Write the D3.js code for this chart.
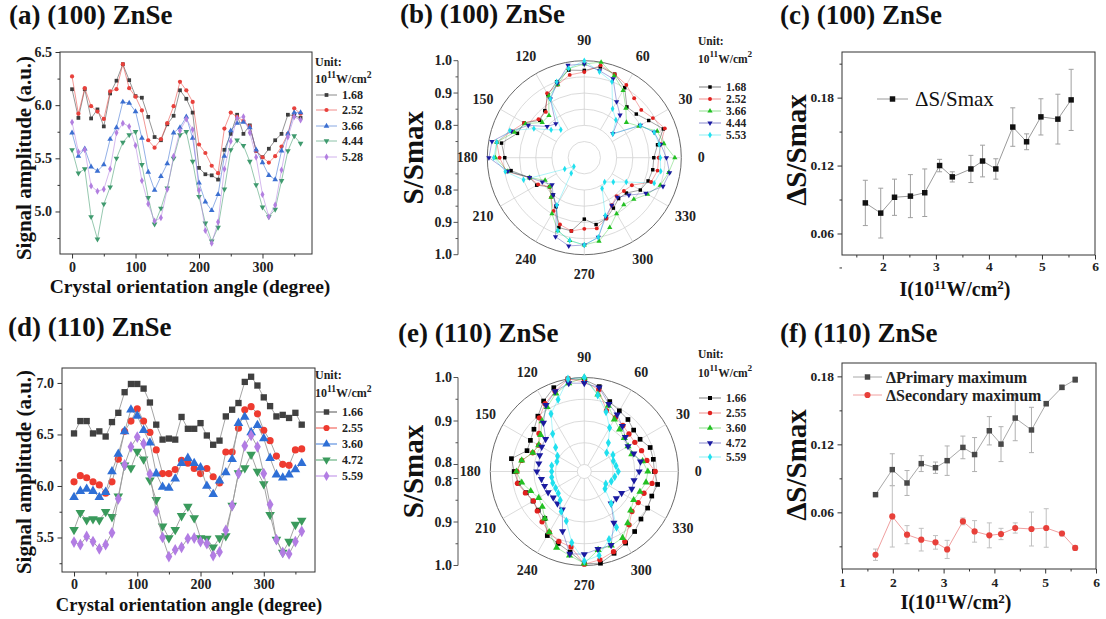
<!DOCTYPE html>
<html><head><meta charset="utf-8">
<script src="https://cdn.jsdelivr.net/npm/d3@7"></script>
<style>
body{margin:0;background:#fff;}
svg{display:block;}
</style></head><body>
<script>
// ---------------- DATA ----------------
const anglesLin = [0,10,20,30,40,50,60,70,80,90,100,110,120,130,140,150,160,170,180,190,200,210,220,230,240,250,260,270,280,290,300,310,320,330,340,350,360];
// (a) (100) ZnSe signal amplitude
const a_168 = [6.15,5.88,6.15,5.875,5.96,5.80,6.11,6.23,6.385,6.235,6.085,6.07,5.89,5.70,5.67,5.82,5.90,6.14,6.06,5.93,5.41,5.35,5.34,5.30,5.58,5.73,5.91,5.73,5.81,5.57,5.51,5.59,5.67,5.73,5.91,5.90,5.88];
const a_252 = [6.27,5.92,6.16,5.99,5.94,5.87,6.13,6.15,6.385,6.16,6.08,5.95,5.67,5.60,5.68,5.83,5.99,6.22,6.14,6.03,5.63,5.55,5.43,5.36,5.78,5.93,5.89,5.85,5.80,5.57,5.51,5.46,5.52,5.61,5.73,5.97,5.92];
const a_366 = [5.74,5.52,5.59,5.42,5.38,5.44,5.68,5.79,6.03,6.02,5.94,5.69,5.37,5.20,5.33,5.45,5.74,5.79,5.89,5.69,5.27,5.09,5.01,5.16,5.52,5.76,5.83,5.84,5.79,5.58,5.46,5.34,5.30,5.57,5.73,5.93,5.93];
const a_444 = [5.58,5.36,5.40,4.95,4.74,5.07,5.23,5.50,5.65,5.72,5.75,5.44,5.13,4.88,5.03,5.22,5.50,5.72,5.75,5.47,5.14,4.89,4.72,4.85,5.21,5.58,5.67,5.62,5.47,5.25,5.04,4.95,5.02,5.29,5.57,5.71,5.64];
const a_528 = [5.84,5.56,5.58,5.24,5.19,5.21,5.40,5.74,5.83,5.80,5.62,5.29,5.07,4.91,4.94,5.21,5.52,5.76,5.87,5.77,5.20,4.82,4.70,4.90,5.40,5.66,5.88,5.89,5.74,5.51,5.16,4.95,5.06,5.39,5.70,5.89,5.86];
const a_labels = ["1.68","2.52","3.66","4.44","5.28"];

// (d) (110) ZnSe signal amplitude
const d_166 = [6.51,6.63,6.63,6.51,6.53,6.48,6.62,6.71,6.91,6.99,6.99,6.945,6.81,6.595,6.45,6.46,6.45,6.67,6.555,6.555,6.61,6.49,6.40,6.44,6.675,6.74,6.805,7.01,7.06,6.975,6.86,6.775,6.675,6.69,6.66,6.71,6.595];
const d_255 = [6.04,6.10,6.08,6.04,6.01,5.93,6.04,6.26,6.53,6.63,6.75,6.63,6.52,6.35,6.12,6.12,6.16,6.25,6.22,6.17,6.12,6.17,6.09,6.03,6.33,6.33,6.56,6.74,6.77,6.70,6.54,6.44,6.29,6.21,6.20,6.35,6.36];
const d_360 = [5.89,5.95,5.97,5.95,5.89,5.94,6.14,6.31,6.53,6.74,6.68,6.54,6.42,6.12,5.99,5.98,6.07,6.22,6.27,6.22,6.18,6.00,5.92,6.05,6.13,6.26,6.61,6.67,6.52,6.59,6.46,6.27,6.11,6.08,6.11,6.16,6.22];
const d_472 = [5.575,5.74,5.67,5.68,5.67,5.75,5.70,5.90,6.20,6.175,6.335,6.26,6.055,5.865,5.61,5.495,5.575,5.71,5.80,5.69,5.495,5.49,5.405,5.495,5.515,5.81,6.125,6.175,6.305,6.14,6.02,5.72,5.48,5.355,5.46,5.625,5.665];
const d_559 = [5.455,5.43,5.51,5.46,5.39,5.43,5.545,5.875,6.205,6.38,6.475,6.41,6.115,5.755,5.50,5.315,5.38,5.405,5.49,5.495,5.46,5.44,5.325,5.36,5.57,5.81,6.12,6.39,6.49,6.38,6.12,5.82,5.48,5.355,5.34,5.46,5.56];
const d_labels = ["1.66","2.55","3.60","4.72","5.59"];

// polar panels (angle in degrees, S/Smax)
const anglesPolar = [0,10,20,30,40,50,60,70,80,90,100,110,120,130,140,150,160,170,180,190,200,210,220,230,240,250,260,270,280,290,300,310,320,330,340,350];
const b_168 = [0.915,0.93,0.96,0.93,0.91,0.905,0.95,0.975,0.985,0.97,0.975,0.95,0.925,0.89,0.88,0.915,0.92,0.96,0.946,0.93,0.88,0.87,0.84,0.85,0.875,0.93,0.93,0.89,0.91,0.90,0.88,0.865,0.87,0.90,0.91,0.915];
const b_252 = [0.93,0.94,0.965,0.945,0.93,0.94,0.96,0.975,0.99,0.965,0.96,0.94,0.93,0.885,0.885,0.915,0.94,0.975,0.962,0.945,0.88,0.865,0.84,0.86,0.89,0.92,0.93,0.92,0.922,0.90,0.87,0.855,0.86,0.87,0.92,0.93];
const b_366 = [0.98,0.95,0.94,0.895,0.87,0.90,0.94,0.97,1.0,0.99,0.98,0.94,0.92,0.87,0.87,0.91,0.93,0.975,0.975,0.94,0.88,0.84,0.84,0.86,0.90,0.94,0.96,0.97,0.962,0.93,0.90,0.89,0.90,0.926,0.95,0.965];
const b_444 = [0.954,0.94,0.93,0.90,0.815,0.872,0.90,0.96,0.973,0.99,0.99,0.945,0.91,0.837,0.85,0.90,0.94,0.99,0.995,0.94,0.88,0.85,0.83,0.85,0.872,0.96,0.977,0.97,0.95,0.894,0.87,0.86,0.88,0.92,0.959,0.968];
const b_553 = [0.935,0.935,0.93,0.90,0.815,0.852,0.875,0.95,0.97,1.0,0.98,0.95,0.91,0.813,0.834,0.88,0.945,0.975,0.98,0.948,0.90,0.77,0.742,0.763,0.87,0.94,0.96,0.97,0.95,0.89,0.81,0.798,0.817,0.85,0.93,0.94];
const b_labels = ["1.68","2.52","3.66","4.44","5.53"];

const e_166 = [0.945,0.945,0.945,0.932,0.932,0.94,0.945,0.955,0.982,0.995,1.0,0.989,0.971,0.95,0.935,0.927,0.924,0.954,0.945,0.938,0.926,0.92,0.922,0.925,0.954,0.96,0.972,0.996,0.998,0.984,0.974,0.964,0.954,0.952,0.949,0.955];
const e_255 = [0.947,0.93,0.924,0.918,0.918,0.922,0.927,0.933,0.975,0.99,1.0,0.98,0.964,0.945,0.92,0.905,0.91,0.93,0.939,0.94,0.928,0.919,0.925,0.935,0.945,0.955,0.96,0.997,0.99,0.98,0.97,0.944,0.927,0.927,0.93,0.942];
const e_360 = [0.93,0.92,0.90,0.90,0.904,0.91,0.922,0.945,0.964,1.0,0.99,0.975,0.955,0.935,0.915,0.905,0.91,0.93,0.94,0.93,0.915,0.905,0.91,0.925,0.945,0.97,0.98,0.995,0.967,0.965,0.96,0.939,0.923,0.915,0.92,0.928];
const e_472 = [0.91,0.915,0.905,0.90,0.907,0.92,0.935,0.949,0.98,0.987,0.99,0.98,0.96,0.93,0.90,0.897,0.893,0.89,0.893,0.884,0.881,0.88,0.877,0.88,0.885,0.93,0.976,0.974,0.965,0.964,0.92,0.88,0.88,0.883,0.90,0.90];
const e_559 = [0.862,0.858,0.855,0.86,0.851,0.87,0.90,0.93,0.962,1.0,1.0,0.96,0.937,0.897,0.87,0.855,0.851,0.86,0.859,0.86,0.861,0.86,0.862,0.87,0.89,0.905,0.95,0.99,0.98,0.95,0.932,0.88,0.846,0.841,0.85,0.855];
const e_labels = ["1.66","2.55","3.60","4.72","5.59"];

// (c) ΔS/Smax vs intensity
const c_I   = [1.67,1.96,2.22,2.52,2.79,3.07,3.31,3.66,3.88,4.13,4.45,4.71,4.98,5.30,5.55];
const c_dS  = [0.087,0.078,0.092,0.093,0.096,0.120,0.110,0.117,0.124,0.117,0.154,0.141,0.163,0.161,0.178];
const c_err = [0.020,0.022,0.016,0.019,0.021,0.0055,0.0045,0.012,0.014,0.009,0.017,0.007,0.016,0.022,0.027];

// (f) primary / secondary maximum
const f_I       = [1.66,1.99,2.28,2.56,2.84,3.07,3.38,3.61,3.90,4.13,4.41,4.73,5.02,5.33,5.59];
const f_prim    = [0.0756,0.0977,0.0859,0.103,0.0994,0.1056,0.1173,0.111,0.132,0.1202,0.1432,0.1327,0.1559,0.1703,0.1771];
const f_primErr = [0.001,0.014,0.011,0.007,0.005,0.013,0.010,0.015,0.0125,0.0154,0.02,0.02,0.002,0.002,0.0025];
const f_sec     = [0.0226,0.0564,0.0403,0.0359,0.0335,0.0273,0.052,0.0432,0.0397,0.0409,0.0462,0.0453,0.0462,0.0413,0.0286];
const f_secErr  = [0.005,0.027,0.008,0.010,0.006,0.008,0.003,0.0095,0.011,0.005,0.0045,0.015,0.017,0.002,0.002];

// tick values
const angleTicks = [0,100,200,300];
const angleMinor = [50,150,250,350];
const aYTicks = [5.0,5.5,6.0,6.5];
const aYMinor = [4.75,5.25,5.75,6.25];
const dYTicks = [5.5,6.0,6.5,7.0];
const dYMinor = [5.25,5.75,6.25,6.75];
const iTicksC = [2,3,4,5,6];
const iTicksF = [1,2,3,4,5,6];
const iMinor = [1.5,2.5,3.5,4.5,5.5];
const dsTicks = [0.06,0.12,0.18];
const dsMinor = [0.03,0.09,0.15,0.21];
const polarAngleLabels = [0,30,60,90,120,150,180,210,240,270,300,330];

// ---------------- DRAWING ----------------
const FONT = "'Liberation Serif','Times New Roman',Times,serif";
const svg = d3.select("body").append("svg").attr("width",1106).attr("height",619)
  .attr("font-family",FONT).attr("font-weight","bold");
svg.append("rect").attr("width",1106).attr("height",619).attr("fill","#fff");

function title(x,y,t){ svg.append("text").attr("x",x).attr("y",y).attr("font-size",27).attr("fill","#111").text(t); }

function styleAxis(sel,fs){
  sel.attr("font-family",FONT).attr("font-weight","bold");
  sel.select(".domain").remove();
  sel.selectAll(".tick line").attr("stroke","#333");
  sel.selectAll(".tick text").attr("font-size",fs).attr("fill","#222");
}

function cartPanel(o){
  const fs = o.fs||14, pad = o.pad||3.5;
  const x = d3.scaleLinear().domain(o.xDomain).range([o.left,o.right]);
  const y = d3.scaleLinear().domain(o.yDomain).range([o.bottom,o.top]);
  const g = svg.append("g");
  g.append("g").attr("transform",`translate(0,${o.bottom})`).call(d3.axisBottom(x).tickValues(o.xMinor).tickSize(2.5).tickFormat("")).call(styleAxis,fs);
  g.append("g").attr("transform",`translate(0,${o.bottom})`).call(d3.axisBottom(x).tickValues(o.xTicks).tickSize(4.5).tickPadding(pad).tickFormat(o.xFmt)).call(styleAxis,fs);
  g.append("g").attr("transform",`translate(${o.left},0)`).call(d3.axisLeft(y).tickValues(o.yMinor).tickSize(2.5).tickFormat("")).call(styleAxis,fs);
  g.append("g").attr("transform",`translate(${o.left},0)`).call(d3.axisLeft(y).tickValues(o.yTicks).tickSize(4.5).tickPadding(3.5).tickFormat(o.yFmt)).call(styleAxis,fs);
  g.append("rect").attr("x",o.left).attr("y",o.top).attr("width",o.right-o.left).attr("height",o.bottom-o.top)
    .attr("fill","none").attr("stroke","#333").attr("stroke-width",1);
  return {x,y,g};
}

const SYM = {
  square:{type:d3.symbolSquare,rot:0},
  circle:{type:d3.symbolCircle,rot:0},
  up:{type:d3.symbolTriangle,rot:0},
  down:{type:d3.symbolTriangle,rot:180},
  diamond:{type:d3.symbolDiamond,rot:0}
};

function marker(g,x,y,sym,size,color){
  g.append("path").attr("transform",`translate(${x},${y}) rotate(${sym.rot})`)
    .attr("d",d3.symbol(sym.type,size)()).attr("fill",color);
}

function drawSeries(p,xs,ys,color,sym,size,lineColor,lineOp){
  const line = d3.line().x((d,i)=>p.x(xs[i])).y(d=>p.y(d));
  p.g.append("path").attr("d",line(ys)).attr("fill","none").attr("stroke",lineColor).attr("stroke-opacity",lineOp).attr("stroke-width",1);
  ys.forEach((v,i)=>marker(p.g,p.x(xs[i]),p.y(v),sym,size,color));
}

function unitLegend(x,unitY,supY,rows,labels,colors,syms,fs,size,lineLen,lineOp){
  const g = svg.append("g").attr("font-size",fs).attr("fill","#222");
  g.append("text").attr("x",x).attr("y",unitY).attr("dominant-baseline","central").text("Unit:");
  const t = g.append("text").attr("x",x).attr("y",supY).attr("dominant-baseline","central");
  t.append("tspan").text("10");
  t.append("tspan").attr("dy",-fs*0.4).attr("font-size",fs*0.8).text("11");
  t.append("tspan").attr("dy",fs*0.4).text("W/cm");
  t.append("tspan").attr("dy",-fs*0.4).attr("font-size",fs*0.8).text("2");
  rows.forEach((ry,i)=>{
    g.append("line").attr("x1",x+1).attr("x2",x+1+lineLen).attr("y1",ry).attr("y2",ry).attr("stroke",colors[i]).attr("stroke-opacity",lineOp).attr("stroke-width",1);
    marker(g,x+1+lineLen/2,ry,syms[i],size,colors[i]);
    g.append("text").attr("x",x+lineLen+6).attr("y",ry).attr("dominant-baseline","central").text(labels[i]);
  });
}

function intensityLabel(cx,base){
  const t = svg.append("text").attr("x",cx).attr("y",base).attr("text-anchor","middle").attr("font-size",20).attr("fill","#111");
  t.append("tspan").text("I(10"); t.append("tspan").attr("dy",-6.5).attr("font-size",13).text("11");
  t.append("tspan").attr("dy",6.5).text("W/cm"); t.append("tspan").attr("dy",-6.5).attr("font-size",13).text("2");
  t.append("tspan").attr("dy",6.5).text(")");
}

// ---------- (a) ----------
title(9,24,"(a) (100) ZnSe");
const colA = ["#3d3d3d","#e8413c","#3b6fd1","#3f9a6e","#b27fe0"];
const symA = [SYM.square,SYM.circle,SYM.up,SYM.down,SYM.diamond];
const pA = cartPanel({left:60,right:312,top:52,bottom:254,xDomain:[-19,378],yDomain:[4.6,6.5],
  xTicks:angleTicks,xMinor:angleMinor,yTicks:aYTicks,yMinor:aYMinor,xFmt:d3.format("d"),yFmt:d3.format(".1f")});
[a_168,a_252,a_366,a_444,a_528].forEach((s,i)=>drawSeries(pA,anglesLin,s,colA[i],symA[i],14,colA[i],0.55));
unitLegend(315,62,79,[95,110,126,141,157],a_labels,colA,symA,12,14,21,0.6);
svg.append("text").attr("transform","translate(31,158) rotate(-90)").attr("text-anchor","middle").attr("font-size",21).attr("fill","#111").text("Signal amplitude (a.u.)");
svg.append("text").attr("x",190).attr("y",293).attr("text-anchor","middle").attr("font-size",19.5).attr("fill","#111").text("Crystal orientation angle (degree)");

// ---------- (d) ----------
title(8,336,"(d) (110) ZnSe");
const colD = ["#404040","#ee3b30","#2e6fd6","#3a9a5c","#b27de3"];
const pD = cartPanel({left:62,right:315,top:368,bottom:572,xDomain:[-19,381],yDomain:[5.165,7.145],pad:2.5,
  xTicks:angleTicks,xMinor:angleMinor,yTicks:dYTicks,yMinor:dYMinor,xFmt:d3.format("d"),yFmt:d3.format(".1f")});
[d_166,d_255,d_360,d_472,d_559].forEach((s,i)=>drawSeries(pD,anglesLin,s,colD[i],symA[i],40,"#9a9a9a",0.9));
unitLegend(315,375,393,[412,428,444,460,476],d_labels,colD,symA,12,30,21,0.9);
svg.append("text").attr("transform","translate(31,472) rotate(-90)").attr("text-anchor","middle").attr("font-size",21).attr("fill","#111").text("Signal amplitude (a.u.)");
svg.append("text").attr("x",189).attr("y",611).attr("text-anchor","middle").attr("font-size",18.5).attr("fill","#111").text("Crystal orientation angle (degree)");

// ---------- polar ----------
const colP = ["#000000","#e0201e","#22c022","#1a1aa0","#20e0ee"];
const symP = [SYM.square,SYM.circle,SYM.up,SYM.down,SYM.diamond];

function polarPanel(o){
  const r = d3.scaleLinear().domain(o.rDomain).range([o.r0,o.R]);
  const g = svg.append("g").attr("transform",`translate(${o.cx},${o.cy})`);
  o.gridVals.forEach(v=>{
    g.append("circle").attr("r",r(v)).attr("fill","none")
      .attr("stroke",v===o.rDomain[1]?"#6a6a6a":"#d2d2d2").attr("stroke-width",v===o.rDomain[1]?1:0.8);
  });
  polarAngleLabels.forEach(a=>{
    const rad = (90-a)*Math.PI/180;
    const p1 = d3.pointRadial(rad,o.spokeStart), p2 = d3.pointRadial(rad,o.R);
    g.append("line").attr("x1",p1[0]).attr("y1",p1[1]).attr("x2",p2[0]).attr("y2",p2[1]).attr("stroke","#d2d2d2").attr("stroke-width",0.8);
    const pl = d3.pointRadial(rad,o.R+20);
    g.append("text").attr("x",pl[0]).attr("y",pl[1]).attr("text-anchor","middle").attr("dominant-baseline","central")
      .attr("font-size",14).attr("fill","#222").text(a);
  });
  o.series.forEach((s,i)=>{
    const pts = anglesPolar.map((a,j)=>({a,v:s[j]}));
    const lr = d3.lineRadial().angle(d=>(90-d.a)*Math.PI/180).radius(d=>r(d.v)).curve(d3.curveLinearClosed);
    g.append("path").attr("d",lr(pts)).attr("fill","none").attr("stroke",colP[i]).attr("stroke-opacity",0.45).attr("stroke-width",0.8);
  });
  o.series.forEach((s,i)=>{
    anglesPolar.forEach((a,j)=>{
      const p = d3.pointRadial((90-a)*Math.PI/180, r(s[j]));
      marker(g,p[0],p[1],symP[i],o.msize,colP[i]);
    });
  });
  // left radial axis (mirrored)
  const ax = svg.append("g");
  ax.append("line").attr("x1",o.axX).attr("x2",o.axX).attr("y1",o.cy-o.R).attr("y2",o.cy+o.R).attr("stroke","#555");
  [-1,1].forEach(sg=>{
    o.rMinor.forEach(v=>ax.append("line").attr("x1",o.axX-2.5).attr("x2",o.axX).attr("y1",o.cy+sg*r(v)).attr("y2",o.cy+sg*r(v)).attr("stroke","#555"));
    o.rTicks.forEach(v=>{
      ax.append("line").attr("x1",o.axX-4.5).attr("x2",o.axX).attr("y1",o.cy+sg*r(v)).attr("y2",o.cy+sg*r(v)).attr("stroke","#555");
      ax.append("text").attr("x",o.axX-6).attr("y",o.cy+sg*Math.max(r(v),9.5)).attr("text-anchor","end").attr("dominant-baseline","central")
        .attr("font-size",14).attr("fill","#222").text(d3.format(".1f")(v));
    });
  });
  svg.append("text").attr("transform",`translate(${o.labX},${o.cy}) rotate(-90)`).attr("text-anchor","middle")
    .attr("font-size",29).attr("fill","#111").text("S/Smax");
}

title(400,23,"(b) (100) ZnSe");
polarPanel({cx:584.3,cy:157.7,R:97,r0:0,rDomain:[0.7,1.0],gridVals:[0.75,0.8,0.85,0.9,0.95,1.0],spokeStart:32.3,
  series:[b_168,b_252,b_366,b_444,b_553],msize:12,axX:458,rTicks:[0.8,0.9,1.0],rMinor:[0.75,0.85,0.95],labX:423});
unitLegend(698,41,59,[87,99,111,123,135],b_labels,colP,symP,11.5,12,22,0.5);

title(398,342,"(e) (110) ZnSe");
polarPanel({cx:584.3,cy:471.5,R:94,r0:7,rDomain:[0.8,1.0],gridVals:[0.8,0.85,0.9,0.95,1.0],spokeStart:7,
  series:[e_166,e_255,e_360,e_472,e_559],msize:22,axX:458,rTicks:[0.8,0.9,1.0],rMinor:[0.85,0.95],labX:423});
unitLegend(698,354,373,[398,413,428,443,457],e_labels,colP,symP,11.5,16,22,0.5);

// ---------- (c) ----------
title(780,24,"(c) (100) ZnSe");
const pC = cartPanel({left:842,right:1095,top:52,bottom:255,xDomain:[1.23,6.0],yDomain:[0.041,0.2203],fs:13.5,pad:2,
  xTicks:iTicksC,xMinor:iMinor,yTicks:dsTicks,yMinor:dsMinor,xFmt:d3.format("d"),yFmt:d3.format(".2f")});
function errBars(p,xs,ys,es,color){
  ys.forEach((v,i)=>{
    const x = p.x(xs[i]), y1 = p.y(v+es[i]), y2 = p.y(v-es[i]);
    p.g.append("line").attr("x1",x).attr("x2",x).attr("y1",y1).attr("y2",y2).attr("stroke",color).attr("stroke-width",1);
    [y1,y2].forEach(yy=>p.g.append("line").attr("x1",x-2.5).attr("x2",x+2.5).attr("y1",yy).attr("y2",yy).attr("stroke",color).attr("stroke-width",1));
  });
}
errBars(pC,c_I,c_dS,c_err,"#a0a0a0");
drawSeries(pC,c_I,c_dS,"#111",SYM.square,30,"#9a9a9a",1);
svg.append("line").attr("x1",877).attr("x2",908).attr("y1",99).attr("y2",99).attr("stroke","#9a9a9a");
marker(svg,892.5,99,SYM.square,30,"#111");
svg.append("text").attr("x",915).attr("y",99).attr("dominant-baseline","central").attr("font-size",21).attr("font-weight","normal").attr("fill","#111").text("ΔS/Smax");
svg.append("text").attr("transform","translate(806,150) rotate(-90)").attr("text-anchor","middle").attr("font-size",29).attr("fill","#111").text("ΔS/Smax");
intensityLabel(955,295.5);

// ---------- (f) ----------
title(780,342,"(f) (110) ZnSe");
const pF = cartPanel({left:842,right:1096,top:363,bottom:569,xDomain:[1,6],yDomain:[0.01,0.1918],fs:13.5,
  xTicks:iTicksF,xMinor:iMinor,yTicks:dsTicks,yMinor:dsMinor,xFmt:d3.format("d"),yFmt:d3.format(".2f")});
errBars(pF,f_I,f_prim,f_primErr,"#b0b0b0");
errBars(pF,f_I,f_sec,f_secErr,"#c0c0c0");
drawSeries(pF,f_I,f_prim,"#484848",SYM.square,30,"#a8a8a8",1);
drawSeries(pF,f_I,f_sec,"#e8403a",SYM.circle,30,"#f0a0a0",1);
[["ΔPrimary maximum","#484848",SYM.square,"#a8a8a8",377],["ΔSecondary maximum","#e8403a",SYM.circle,"#f0a0a0",395]].forEach(d=>{
  svg.append("line").attr("x1",853).attr("x2",882).attr("y1",d[4]).attr("y2",d[4]).attr("stroke",d[3]);
  marker(svg,867.5,d[4],d[2],30,d[1]);
  svg.append("text").attr("x",886).attr("y",d[4]).attr("dominant-baseline","central").attr("font-size",16).attr("fill","#222").text(d[0]);
});
svg.append("text").attr("transform","translate(806,465) rotate(-90)").attr("text-anchor","middle").attr("font-size",29).attr("fill","#111").text("ΔS/Smax");
intensityLabel(956,609);
</script></body></html>
